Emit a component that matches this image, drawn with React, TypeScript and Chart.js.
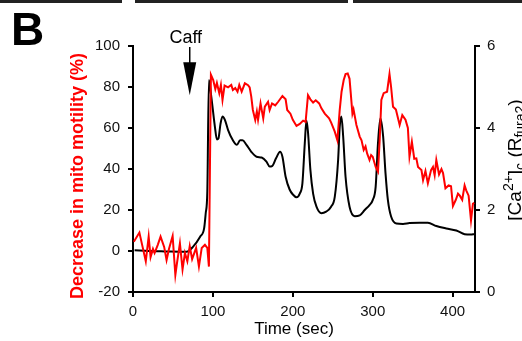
import React, { useEffect, useRef } from "react";
import { Chart, registerables } from "chart.js";

Chart.register(...registerables);

// Decrease in mito motility (%) — red, left axis
const motilityTime = [1, 8, 12, 16, 19.6, 22, 25, 27, 31, 34.5, 39, 42, 45, 49.6, 53, 55, 58.7, 62, 65, 68, 71, 74, 79, 82.5, 86, 90, 93, 95, 97.5, 100.4, 103, 105, 108, 110, 112, 114.6, 119, 123, 125, 128, 130.8, 133, 136, 140, 144, 146, 148, 150, 153, 155, 156.5, 159.6, 163, 165, 169, 171, 174, 178, 181.7, 187, 191, 193, 197, 200, 204.6, 208.7, 212.9, 216, 219, 222, 225.4, 228.7, 233, 235.8, 240, 245.4, 248, 252.5, 255.8, 258.7, 261, 263.7, 266, 268.7, 271, 272.5, 274.6, 276, 279.6, 283.7, 286, 288.7, 291, 293, 296, 298, 300, 303.7, 306.6, 308.7, 310.8, 313.7, 318, 321, 323, 325.4, 329, 333.7, 337, 341, 344, 346, 349, 352, 354.6, 356.7, 361, 363, 366, 369, 373, 375.4, 377.5, 379.6, 383, 386, 388, 391, 395, 398, 400.4, 404, 406.7, 409, 412, 415, 417, 420, 423, 425.4, 427];
const motilityValue = [4.5, 9, 2, -5, 7, -3, 1, -1, 3, 7, 2, -4.4, 1, 7.3, -11.7, -6, 3.7, -9, -1, -5, 2.4, -4, 1.5, -7.6, 1.5, 3, 1.5, -7.6, 86, 83.4, 79, 82, 77, 81, 73.7, 80.7, 79.8, 81, 78.5, 79.5, 77.7, 81, 77.7, 81.8, 80.9, 79.8, 75.3, 68.8, 63.9, 68, 64, 72, 64.7, 70.4, 72.8, 68.8, 72, 71, 72.8, 75.6, 74, 68.8, 67, 64, 61, 62, 63.6, 63, 76, 74, 72.4, 73.5, 72, 69.6, 67, 64.7, 62.6, 58.2, 54, 68.8, 77.7, 83.4, 86.3, 86.6, 84, 77, 67, 69, 61.5, 55.8, 54, 49.3, 51, 47.6, 44.4, 46.8, 46, 41, 38.7, 54, 73.7, 77, 77.7, 86.3, 80, 70.4, 69, 61.5, 66.3, 64, 60, 46, 53.3, 45, 45.2, 41, 39.5, 34.6, 39, 33, 39.5, 41, 37, 44.4, 37.4, 40, 38, 30.6, 32, 31.6, 22, 25, 28, 27, 25, 32, 29.6, 27, 15, 23, 23.5];

// [Ca2+]c (R fura2) — black, right axis
const calciumTime = [2, 20, 40, 67, 75, 84, 89, 91, 93, 95, 98, 102.5, 105, 107, 109.5, 112, 115, 119, 125, 130, 134, 137, 142, 148, 154.6, 161, 167, 171, 174, 179, 184, 187, 191, 196, 200, 204.6, 208.7, 212, 215, 217, 219, 222, 225.4, 229.6, 235.8, 241.7, 247.9, 252.5, 256.7, 258.7, 260.8, 263, 266, 271, 277.5, 283.7, 290, 296, 300, 303.7, 306.6, 309.6, 313, 316, 319, 323, 329.6, 337.9, 346, 358.7, 369, 379.6, 392, 404.6, 415, 423, 427];
const calciumValue = [1.02, 1.0, 0.99, 0.98, 1.1, 1.35, 1.55, 1.92, 2.45, 5.17, 4.76, 4.03, 3.72, 3.75, 4.1, 4.28, 4.2, 3.95, 3.7, 3.59, 3.7, 3.7, 3.59, 3.42, 3.3, 3.28, 3.18, 3.06, 3.07, 3.26, 3.42, 3.3, 2.81, 2.5, 2.38, 2.31, 2.4, 2.65, 3.63, 4.18, 3.9, 2.98, 2.4, 2.08, 1.92, 1.96, 2.08, 2.32, 3.22, 4.03, 4.28, 3.8, 2.81, 2.08, 1.85, 1.87, 2.0, 2.12, 2.24, 2.57, 3.63, 4.24, 3.8, 2.9, 2.24, 1.84, 1.67, 1.66, 1.68, 1.69, 1.69, 1.61, 1.55, 1.5, 1.41, 1.4, 1.41];

const xTicks = [0, 100, 200, 300, 400];
const leftTicks = [-20, 0, 20, 40, 60, 80, 100];
const rightTicks = [0, 2, 4, 6];
const caffTime = 71;
const caffTipValue = 76;

const FONT = "'Liberation Sans', Arial, Helvetica, sans-serif";

const decorPlugin = {
  id: "decor",
  afterDraw(chart: any) {
    const ctx = chart.ctx as CanvasRenderingContext2D;
    const area = chart.chartArea;
    const xs = chart.scales.x;
    const ys = chart.scales.y;
    ctx.save();

    // top strips from adjacent panel
    ctx.fillStyle = "#222";
    ctx.fillRect(0, 0, 122, 3);
    ctx.fillRect(135, 0, 213, 3);
    ctx.fillRect(353, 0, 169, 3);

    // panel letter
    ctx.fillStyle = "#000";
    ctx.font = `bold 46px ${FONT}`;
    ctx.textAlign = "left";
    ctx.textBaseline = "alphabetic";
    ctx.fillText("B", 11, 45);

    // Caff arrow
    const ax = xs.getPixelForValue(caffTime);
    const tip = ys.getPixelForValue(caffTipValue);
    ctx.strokeStyle = "#000";
    ctx.lineWidth = 1.5;
    ctx.beginPath();
    ctx.moveTo(ax, area.top + 1);
    ctx.lineTo(ax, tip - 20);
    ctx.stroke();
    ctx.beginPath();
    ctx.moveTo(ax - 6.5, tip - 33);
    ctx.lineTo(ax + 6.5, tip - 33);
    ctx.lineTo(ax, tip);
    ctx.closePath();
    ctx.fill();
    ctx.font = `18px ${FONT}`;
    ctx.textAlign = "center";
    ctx.fillText("Caff", ax - 4, area.top - 3);

    // x title
    ctx.font = `17px ${FONT}`;
    ctx.fillText("Time (sec)", 294, 334);

    // left title
    ctx.save();
    ctx.translate(83, 176);
    ctx.rotate(-Math.PI / 2);
    ctx.fillStyle = "#ff0000";
    ctx.font = `bold 18px ${FONT}`;
    ctx.textAlign = "center";
    ctx.fillText("Decrease in mito motility (%)", 0, 0);
    ctx.restore();

    // right title with sup/subscripts
    const parts = [
      { t: "[Ca", s: 19, dy: 0 },
      { t: "2+", s: 14, dy: -8 },
      { t: "]", s: 19, dy: 0 },
      { t: "c", s: 14, dy: 4 },
      { t: " (R", s: 19, dy: 0 },
      { t: "fura2", s: 14, dy: 4 },
      { t: ")", s: 19, dy: 0 },
    ];
    ctx.save();
    ctx.translate(521, 160);
    ctx.rotate(-Math.PI / 2);
    ctx.fillStyle = "#000";
    ctx.textAlign = "left";
    let total = 0;
    for (const p of parts) {
      ctx.font = `${p.s}px ${FONT}`;
      total += ctx.measureText(p.t).width;
    }
    let px = -total / 2;
    for (const p of parts) {
      ctx.font = `${p.s}px ${FONT}`;
      ctx.fillText(p.t, px, p.dy);
      px += ctx.measureText(p.t).width;
    }
    ctx.restore();

    ctx.restore();
  },
};

export default function App() {
  const ref = useRef<HTMLCanvasElement | null>(null);
  useEffect(() => {
    if (!ref.current) return;
    const tickFont = { family: FONT, size: 15 };
    const chart = new Chart(ref.current, {
      type: "line",
      data: {
        datasets: [
          {
            label: "motility",
            data: motilityTime.map((t, i) => ({ x: t, y: motilityValue[i] })),
            borderColor: "#ff0000",
            borderWidth: 2,
            pointRadius: 0,
            tension: 0,
            yAxisID: "y",
          },
          {
            label: "calcium",
            data: calciumTime.map((t, i) => ({ x: t, y: calciumValue[i] })),
            borderColor: "#000000",
            borderWidth: 2,
            pointRadius: 0,
            cubicInterpolationMode: "monotone",
            yAxisID: "y1",
          },
        ],
      },
      options: {
        responsive: false,
        animation: false,
        devicePixelRatio: 1,
        layout: { padding: { top: 46, left: 0, right: 0, bottom: 0 } },
        plugins: { legend: { display: false }, tooltip: { enabled: false } },
        scales: {
          x: {
            type: "linear",
            min: 0,
            max: 428,
            afterBuildTicks: (s: any) => {
              s.ticks = xTicks.map((v) => ({ value: v }));
            },
            afterFit: (s: any) => {
              s.height = 49;
            },
            ticks: { font: tickFont, color: "#111", padding: 6, maxRotation: 0 },
            grid: { display: true, drawOnChartArea: false, drawTicks: true, tickLength: 5, color: "#000", lineWidth: 2 },
            border: { display: true, color: "#000", width: 2 },
          },
          y: {
            type: "linear",
            position: "left",
            min: -20,
            max: 100,
            afterBuildTicks: (s: any) => {
              s.ticks = leftTicks.map((v) => ({ value: v }));
            },
            afterFit: (s: any) => {
              s.width = 133;
            },
            ticks: { font: tickFont, color: "#111", padding: 8 },
            grid: { display: true, drawOnChartArea: false, drawTicks: true, tickLength: 5, color: "#000", lineWidth: 2 },
            border: { display: true, color: "#000", width: 2 },
          },
          y1: {
            type: "linear",
            position: "right",
            min: 0,
            max: 6,
            afterBuildTicks: (s: any) => {
              s.ticks = rightTicks.map((v) => ({ value: v }));
            },
            afterFit: (s: any) => {
              s.width = 47;
            },
            ticks: { font: tickFont, color: "#111", padding: 7 },
            grid: { display: true, drawOnChartArea: false, drawTicks: true, tickLength: 5, color: "#000", lineWidth: 2 },
            border: { display: true, color: "#000", width: 2 },
          },
        },
      },
      plugins: [decorPlugin],
    } as any);
    return () => chart.destroy();
  }, []);
  return (
    <div style={{ position: "fixed", left: 0, top: 0, width: 522, height: 341, background: "#fff" }}>
      <canvas ref={ref} width={522} height={341} style={{ display: "block" }} />
    </div>
  );
}
